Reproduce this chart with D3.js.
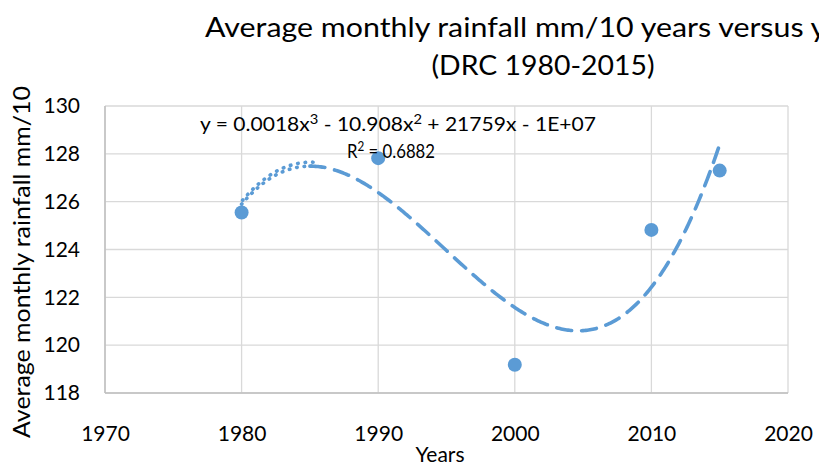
<!DOCTYPE html>
<html>
<head>
<meta charset="utf-8">
<script src="https://cdn.jsdelivr.net/npm/d3@7"></script>
<style>
  body { margin: 0; background: #fff; overflow: hidden; }
  svg { display: block; font-family: Lato, "Open Sans", sans-serif; }
  .grid line { stroke: #d9d9d9; stroke-width: 1.3; }
  .tick text { fill: #000; }
</style>
</head>
<body>
<svg width="819" height="468"></svg>
<script>
(function() {
  var years = [1980, 1990, 2000, 2010, 2015];
  var rainfall = [125.55, 127.82, 119.18, 124.82, 127.3];
  var xTicks = [1970, 1980, 1990, 2000, 2010, 2020];
  var yTicks = [118, 120, 122, 124, 126, 128, 130];
  var equation = ["y = 0.0018x", "3", " - 10.908x", "2", " + 21759x - 1E+07"];
  var rSquared = ["R", "2", " = 0.6882"];

  var svg = d3.select('svg');
  var pLeft = 105, pRight = 788, pTop = 106, pBottom = 393;
  var blue = '#5b9bd5';

  var x = d3.scaleLinear().domain([1970, 2020]).range([pLeft, pRight]);
  var y = d3.scaleLinear().domain([118, 130]).range([pBottom, pTop]);

  // grid
  var grid = svg.append('g').attr('class', 'grid');
  grid.selectAll('.h').data(yTicks).enter().append('line')
    .attr('x1', pLeft).attr('x2', pRight)
    .attr('y1', function(d) { return y(d); }).attr('y2', function(d) { return y(d); });
  grid.selectAll('.v').data(xTicks).enter().append('line')
    .attr('y1', pTop).attr('y2', pBottom)
    .attr('x1', function(d) { return x(d); }).attr('x2', function(d) { return x(d); });
  svg.append('line').attr('x1', pLeft).attr('x2', pRight).attr('y1', pBottom).attr('y2', pBottom)
    .attr('stroke', '#bfbfbf').attr('stroke-width', 1.5);
  svg.append('line').attr('x1', pLeft).attr('x2', pLeft).attr('y1', pTop).attr('y2', pBottom)
    .attr('stroke', '#bfbfbf').attr('stroke-width', 1.5);

  // axes (labels only)
  var yAxis = svg.append('g').attr('transform', 'translate(' + (pLeft - 25) + ',0)')
    .call(d3.axisLeft(y).tickValues(yTicks).tickSize(0).tickPadding(0));
  yAxis.select('.domain').remove();
  yAxis.selectAll('text').attr('font-size', 21).attr('font-family', 'Lato, sans-serif');

  var xAxis = svg.append('g').attr('transform', 'translate(0,' + (pBottom + 33) + ')')
    .call(d3.axisBottom(x).tickValues(xTicks).tickFormat(d3.format('d')).tickSize(0).tickPadding(0));
  xAxis.select('.domain').remove();
  xAxis.selectAll('text').attr('font-size', 21).attr('font-family', 'Lato, sans-serif');

  // cubic least-squares fit of the points (same as the spreadsheet trendline)
  function polyfit(xs, ys, deg) {
    var n = deg + 1, A = [], i, j, k;
    for (i = 0; i < n; i++) {
      A.push([]);
      for (j = 0; j < n; j++) A[i].push(d3.sum(xs, function(v) { return Math.pow(v, i + j); }));
      A[i].push(d3.sum(xs, function(v, t) { return Math.pow(v, i) * ys[t]; }));
    }
    for (i = 0; i < n; i++) {
      for (k = i + 1; k < n; k++) {
        var f = A[k][i] / A[i][i];
        for (j = i; j <= n; j++) A[k][j] -= f * A[i][j];
      }
    }
    var c = new Array(n);
    for (i = n - 1; i >= 0; i--) {
      var s = A[i][n];
      for (j = i + 1; j < n; j++) s -= A[i][j] * c[j];
      c[i] = s / A[i][i];
    }
    return c;
  }
  var xc = years.map(function(d) { return d - 1995; });
  var coef = polyfit(xc, rainfall, 3);
  function trend(t) {
    var u = t - 1995;
    return coef[0] + coef[1] * u + coef[2] * u * u + coef[3] * u * u * u;
  }
  var line = d3.line().x(function(d) { return x(d); }).y(function(d) { return y(trend(d)); });
  var part1 = d3.range(1980, 1985.51, 0.1);
  var part2 = d3.range(1985, 2015.01, 0.1);

  // dotted start of the trendline (drawn twice, slightly apart, as in the source)
  svg.append('path').datum(part1).attr('d', line)
    .attr('fill', 'none').attr('stroke', blue).attr('stroke-width', 3.6)
    .attr('stroke-linecap', 'round').attr('stroke-dasharray', '0.5,7');
  svg.append('path').datum(part1).attr('d', line)
    .attr('transform', 'translate(1,-4)')
    .attr('fill', 'none').attr('stroke', blue).attr('stroke-width', 3.6)
    .attr('stroke-linecap', 'round').attr('stroke-dasharray', '0.5,7');
  // dashed remainder
  svg.append('path').datum(part2).attr('d', line)
    .attr('fill', 'none').attr('stroke', blue).attr('stroke-width', 3.6)
    .attr('stroke-linecap', 'round').attr('stroke-dasharray', '15,10');

  // points
  svg.selectAll('.pt').data(years).enter().append('circle')
    .attr('cx', function(d) { return x(d); })
    .attr('cy', function(d, i) { return y(rainfall[i]); })
    .attr('r', 7).attr('fill', blue);

  // trendline label
  function supText(parts, tx, ty, len) {
    var t = svg.append('text').attr('x', tx).attr('y', ty).attr('font-size', 20)
      .attr('textLength', len).attr('lengthAdjust', 'spacingAndGlyphs');
    parts.forEach(function(s, i) {
      var ts = t.append('tspan').text(s);
      if (i % 2 === 1) ts.attr('dy', -7).attr('font-size', 14);
      else if (i > 0) ts.attr('dy', 7);
    });
  }
  supText(equation, 200, 131, 396);
  supText(rSquared, 347, 158, 88);

  // titles
  svg.append('text').attr('x', 205).attr('y', 37).attr('font-size', 27)
    .attr('textLength', 676).attr('lengthAdjust', 'spacingAndGlyphs')
    .text('Average monthly rainfall mm/10 years versus years');
  svg.append('text').attr('x', 543).attr('y', 75).attr('font-size', 27)
    .attr('text-anchor', 'middle').attr('textLength', 223).attr('lengthAdjust', 'spacingAndGlyphs')
    .text('(DRC 1980-2015)');
  svg.append('text').attr('x', 440).attr('y', 462).attr('font-size', 21)
    .attr('text-anchor', 'middle').text('Years');
  svg.append('text').attr('transform', 'translate(30,262) rotate(-90)')
    .attr('font-size', 23).attr('text-anchor', 'middle')
    .attr('textLength', 352).attr('lengthAdjust', 'spacingAndGlyphs')
    .text('Average monthly rainfall mm/10');
})();
</script>
</body>
</html>
